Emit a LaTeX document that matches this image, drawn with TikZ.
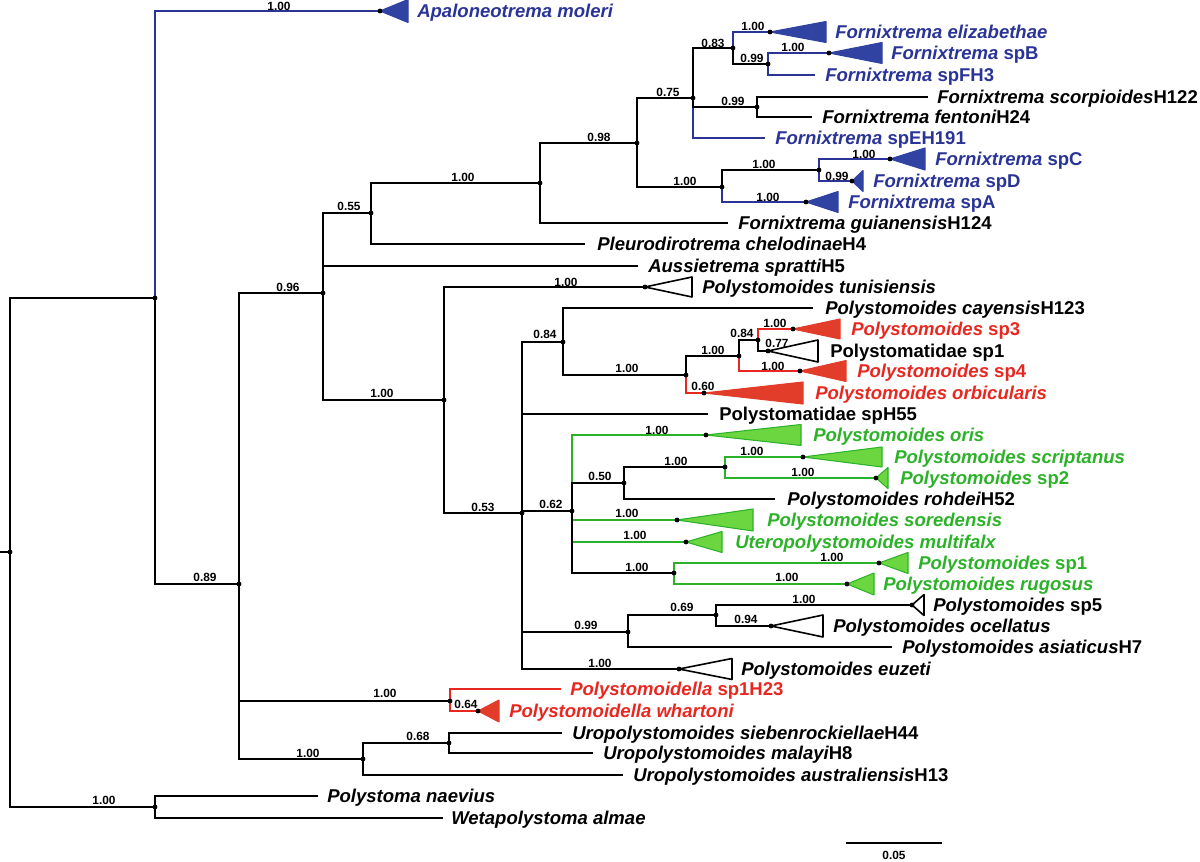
\documentclass[tikz,border=0pt]{standalone}
\usepackage{fontspec}
\setmainfont{Liberation Sans}
\definecolor{cblue}{RGB}{42,52,150}
\definecolor{cbfill}{RGB}{48,66,162}
\definecolor{cred}{RGB}{232,40,32}
\definecolor{crfill}{RGB}{226,60,42}
\definecolor{cgreen}{RGB}{44,178,40}
\definecolor{cgfill}{RGB}{108,214,64}
\begin{document}
\begin{tikzpicture}[x=0.75pt,y=-0.75pt,
  br/.style={line width=1.5pt,black},
  bb/.style={line width=1.3pt,cblue},
  rb/.style={line width=1.3pt,cred},
  gb/.style={line width=1.3pt,cgreen},
  btri/.style={fill=cbfill,draw=cbfill,line width=0.8pt,line join=round},
  rtri/.style={fill=crfill,draw=crfill,line width=0.8pt,line join=round},
  gtri/.style={fill=cgfill,draw=cgreen,line width=0.8pt,line join=round},
  wtri/.style={fill=white,draw=black,line width=1.2pt,line join=round},
  lbl/.style={anchor=base west,inner sep=0pt,yshift=-5pt,font=\fontsize{13.9}{16}\selectfont\bfseries},
  sup/.style={inner sep=0pt,font=\fontsize{8.9}{10}\selectfont\bfseries}]
\useasboundingbox (0,0) rectangle (1200,862);
% ---------- node coordinates ----------
\coordinate (rootL) at (0,552);
\coordinate (root) at (10,552);
\coordinate (nA) at (155,298);
\coordinate (apa) at (380,11);
\coordinate (n89) at (239,584);
\coordinate (n96) at (323,293);
\coordinate (n55) at (371,213);
\coordinate (n100a) at (540,183);
\coordinate (n98) at (637,143);
\coordinate (n75) at (693,98);
\coordinate (n83) at (733,48);
\coordinate (eliz) at (770,32);
\coordinate (n99a) at (768,64);
\coordinate (spB) at (829,53);
\coordinate (spFH3) at (815,75);
\coordinate (n99b) at (757,107);
\coordinate (scorp) at (928,97);
\coordinate (fent) at (812,117);
\coordinate (spEH) at (765,138);
\coordinate (n100b) at (722,187);
\coordinate (n100c) at (819,170);
\coordinate (spC) at (890,159);
\coordinate (spD) at (852,181);
\coordinate (spA) at (806,202);
\coordinate (guian) at (728,223);
\coordinate (pleuro) at (585,244);
\coordinate (auss) at (638,266);
\coordinate (n100d) at (444,400);
\coordinate (tunis) at (645,287);
\coordinate (n53) at (522,513);
\coordinate (n84) at (563,342);
\coordinate (cay) at (813,308);
\coordinate (n100e) at (686,375);
\coordinate (n100f) at (739,356);
\coordinate (n84b) at (758,340);
\coordinate (sp3) at (793,329);
\coordinate (psp1) at (768,351);
\coordinate (sp4) at (800,371);
\coordinate (orb) at (704,393);
\coordinate (spH55) at (708,414);
\coordinate (n62) at (572,511);
\coordinate (oris) at (706,435);
\coordinate (n50) at (624,483);
\coordinate (n100g) at (725,467);
\coordinate (scrip) at (803,457);
\coordinate (sp2) at (876,478);
\coordinate (rohd) at (775,499);
\coordinate (sored) at (677,520);
\coordinate (multi) at (686,542);
\coordinate (n100h) at (674,573);
\coordinate (psp1g) at (879,563);
\coordinate (rugo) at (847,584);
\coordinate (n99c) at (628,632);
\coordinate (n69) at (716,615);
\coordinate (sp5) at (912,605);
\coordinate (ocel) at (771,626);
\coordinate (asia) at (892,647);
\coordinate (euz) at (679,669);
\coordinate (nPd) at (450,701);
\coordinate (spH23) at (561,689);
\coordinate (whar) at (478,711);
\coordinate (nU) at (363,759);
\coordinate (n68) at (449,743);
\coordinate (sieb) at (562,733);
\coordinate (mal) at (593,753);
\coordinate (aust) at (622.5,775);
\coordinate (nP) at (155,807);
\coordinate (naev) at (318,796);
\coordinate (weta) at (443,818);
\coordinate (sbL) at (846,843);
\coordinate (sbR) at (942,843);
% ---------- coloured branches ----------
\draw[bb] (nA) |- (apa);
\draw[bb] (n83) |- (eliz);
\draw[bb] (n99a) |- (spB);
\draw[bb] (n99a) |- (spFH3);
\draw[bb] (n75) |- (spEH);
\draw[bb] (n100b) |- (spA);
\draw[bb] (n100c) |- (spC);
\draw[bb] (n100c) |- (spD);
\draw[rb] (n100e) |- (orb);
\draw[rb] (n100f) |- (sp4);
\draw[rb] (n84b) |- (sp3);
\draw[rb] (nPd) |- (spH23);
\draw[rb] (nPd) |- (whar);
\draw[gb] (n62) |- (oris);
\draw[gb] (n62) |- (sored);
\draw[gb] (n62) |- (multi);
\draw[gb] (n100g) |- (scrip);
\draw[gb] (n100g) |- (sp2);
\draw[gb] (n100h) |- (psp1g);
\draw[gb] (n100h) |- (rugo);
% ---------- black branches ----------
\draw[br] (rootL) -- (root);
\foreach \p/\c in {root/nA,root/nP,nA/n89,n89/n96,n89/nPd,n89/nU,
  n96/n55,n96/auss,n96/n100d,n55/n100a,n55/pleuro,n100a/n98,n100a/guian,
  n98/n75,n98/n100b,n75/n83,n75/n99b,n83/n99a,n99b/scorp,n99b/fent,
  n100b/n100c,n100d/tunis,n100d/n53,n53/n84,n53/spH55,n53/n62,n53/n99c,n53/euz,
  n84/cay,n84/n100e,n100e/n100f,n100f/n84b,n84b/psp1,n62/n50,n62/n100h,
  n50/n100g,n50/rohd,n99c/n69,n99c/asia,n69/sp5,n69/ocel,nU/n68,nU/aust,
  n68/sieb,n68/mal,nP/naev,nP/weta}
  {\draw[br] (\p) |- (\c);}
% ---------- collapsed clades ----------
\foreach \t/\dx/\h/\s in {apa/28/11.5/btri,eliz/56/10.5/btri,spB/53/10.5/btri,
  spC/35/11/btri,spD/11/10.5/btri,spA/32/10.5/btri,
  tunis/47/10/wtri,sp3/47/10/rtri,psp1/50/11/wtri,sp4/46/10.5/rtri,orb/99/11/rtri,
  oris/95/10.5/gtri,scrip/79/10/gtri,sp2/12/10.5/gtri,sored/76/11/gtri,
  multi/36/10.5/gtri,psp1g/29/10.5/gtri,rugo/27/11/gtri,
  sp5/12/10.5/wtri,ocel/52/11/wtri,euz/53/10.5/wtri,whar/21/11/rtri}
  {\draw[\s] (\t) -- ++(\dx,-\h) -- ++(0,2*\h) -- cycle;}
% ---------- dots ----------
\foreach \n in {root,nA,apa,n89,n96,n55,n100a,n98,n75,n83,eliz,n99a,spB,n99b,
  n100b,n100c,spC,spD,spA,n100d,tunis,n53,n84,n100e,n100f,n84b,sp3,psp1,sp4,orb,
  n62,oris,n50,n100g,scrip,sp2,sored,multi,n100h,psp1g,rugo,n99c,n69,sp5,ocel,
  euz,nPd,whar,nU,n68,nP}
  {\fill[black] (\n) circle (2.4);}
% ---------- support values ----------
\node[sup] (s01) at (279,6) {1.00};
\node[sup] (s02) at (753,26) {1.00};
\node[sup] (s03) at (713,43) {0.83};
\node[sup] (s04) at (793,47) {1.00};
\node[sup] (s05) at (752,58) {0.99};
\node[sup] (s06) at (668,92) {0.75};
\node[sup] (s07) at (733,101) {0.99};
\node[sup] (s08) at (599,137) {0.98};
\node[sup] (s09) at (463,177) {1.00};
\node[sup] (s10) at (685,181) {1.00};
\node[sup] (s11) at (764,164) {1.00};
\node[sup] (s12) at (768,197) {1.00};
\node[sup] (s13) at (864,154) {1.00};
\node[sup] (s14) at (837,176) {0.99};
\node[sup] (s15) at (349,206) {0.55};
\node[sup] (s16) at (288,287) {0.96};
\node[sup] (s17) at (566,282) {1.00};
\node[sup] (s18) at (382,393) {1.00};
\node[sup] (s19) at (205,577) {0.89};
\node[sup] (s20) at (545,334) {0.84};
\node[sup] (s21) at (627,368) {1.00};
\node[sup] (s22) at (713,350) {1.00};
\node[sup] (s23) at (742,333) {0.84};
\node[sup] (s24) at (775,323) {1.00};
\node[sup] (s25) at (777,343) {0.77};
\node[sup] (s26) at (773,366) {1.00};
\node[sup] (s27) at (703,386) {0.60};
\node[sup] (s28) at (657,430) {1.00};
\node[sup] (s29) at (483,507) {0.53};
\node[sup] (s30) at (551,504) {0.62};
\node[sup] (s31) at (600,476) {0.50};
\node[sup] (s32) at (676,461) {1.00};
\node[sup] (s33) at (752,451) {1.00};
\node[sup] (s34) at (803,472) {1.00};
\node[sup] (s35) at (627,513) {1.00};
\node[sup] (s36) at (635,535) {1.00};
\node[sup] (s37) at (637,567) {1.00};
\node[sup] (s38) at (832,557) {1.00};
\node[sup] (s39) at (787,577) {1.00};
\node[sup] (s40) at (586,625) {0.99};
\node[sup] (s41) at (682,607) {0.69};
\node[sup] (s42) at (804,599) {1.00};
\node[sup] (s43) at (746,619) {0.94};
\node[sup] (s44) at (600,663) {1.00};
\node[sup] (s45) at (385,693) {1.00};
\node[sup] (s46) at (466,704) {0.64};
\node[sup] (s47) at (308,753) {1.00};
\node[sup] (s48) at (418,736) {0.68};
\node[sup] (s49) at (104,800) {1.00};
% ---------- taxon labels ----------
\node[lbl,text=cblue] (tApa) at (417,11) {\itshape Apaloneotrema moleri};
\node[lbl,text=cblue] (tEli) at (835,32) {\itshape Fornixtrema elizabethae};
\node[lbl,text=cblue] (tSpB) at (891,53) {{\itshape Fornixtrema} spB};
\node[lbl,text=cblue] (tFH3) at (825,75) {{\itshape Fornixtrema} spFH3};
\node[lbl] (tSco) at (937,97) {{\itshape Fornixtrema scorpioides}H122};
\node[lbl] (tFen) at (822,117) {{\itshape Fornixtrema fentoni}H24};
\node[lbl,text=cblue] (tEH) at (775,138) {{\itshape Fornixtrema} spEH191};
\node[lbl,text=cblue] (tSpC) at (935,159) {{\itshape Fornixtrema} spC};
\node[lbl,text=cblue] (tSpD) at (873,181) {{\itshape Fornixtrema} spD};
\node[lbl,text=cblue] (tSpA) at (848,202) {{\itshape Fornixtrema} spA};
\node[lbl] (tGui) at (738,223) {{\itshape Fornixtrema guianensis}H124};
\node[lbl] (tPle) at (597,244) {{\itshape Pleurodirotrema chelodinae}H4};
\node[lbl] (tAus) at (648,266) {{\itshape Aussietrema spratti}H5};
\node[lbl] (tTun) at (702,287) {\itshape Polystomoides tunisiensis};
\node[lbl] (tCay) at (825,308) {{\itshape Polystomoides cayensis}H123};
\node[lbl,text=cred] (tSp3) at (851,329) {{\itshape Polystomoides} sp3};
\node[lbl] (tPs1) at (830,351) {Polystomatidae sp1};
\node[lbl,text=cred] (tSp4) at (857,371) {{\itshape Polystomoides} sp4};
\node[lbl,text=cred] (tOrb) at (815,393) {\itshape Polystomoides orbicularis};
\node[lbl] (tH55) at (719,414) {Polystomatidae spH55};
\node[lbl,text=cgreen] (tOri) at (813,435) {\itshape Polystomoides oris};
\node[lbl,text=cgreen] (tScr) at (894,457) {\itshape Polystomoides scriptanus};
\node[lbl,text=cgreen] (tSp2) at (900,478) {{\itshape Polystomoides} sp2};
\node[lbl] (tRoh) at (787,499) {{\itshape Polystomoides rohdei}H52};
\node[lbl,text=cgreen] (tSor) at (767,520) {\itshape Polystomoides soredensis};
\node[lbl,text=cgreen] (tMul) at (735,542) {\itshape Uteropolystomoides multifalx};
\node[lbl,text=cgreen] (tSp1g) at (918,563) {{\itshape Polystomoides} sp1};
\node[lbl,text=cgreen] (tRug) at (883,584) {\itshape Polystomoides rugosus};
\node[lbl] (tSp5) at (933,605) {{\itshape Polystomoides} sp5};
\node[lbl] (tOce) at (833,626) {\itshape Polystomoides ocellatus};
\node[lbl] (tAsi) at (902,647) {{\itshape Polystomoides asiaticus}H7};
\node[lbl] (tEuz) at (741,669) {\itshape Polystomoides euzeti};
\node[lbl,text=cred] (tH23) at (570,689) {{\itshape Polystomoidella} sp1H23};
\node[lbl,text=cred] (tWha) at (509,711) {\itshape Polystomoidella whartoni};
\node[lbl] (tSie) at (572,733) {{\itshape Uropolystomoides siebenrockiellae}H44};
\node[lbl] (tMal) at (603,753) {{\itshape Uropolystomoides malayi}H8};
\node[lbl] (tAust) at (633,775) {{\itshape Uropolystomoides australiensis}H13};
\node[lbl] (tNae) at (327,796) {\itshape Polystoma naevius};
\node[lbl] (tWet) at (451,818) {\itshape Wetapolystoma almae};
% ---------- scale bar ----------
\draw[br] (sbL) -- (sbR);
\node[sup] (sbT) at (894,855) {0.05};
\end{tikzpicture}
\end{document}
